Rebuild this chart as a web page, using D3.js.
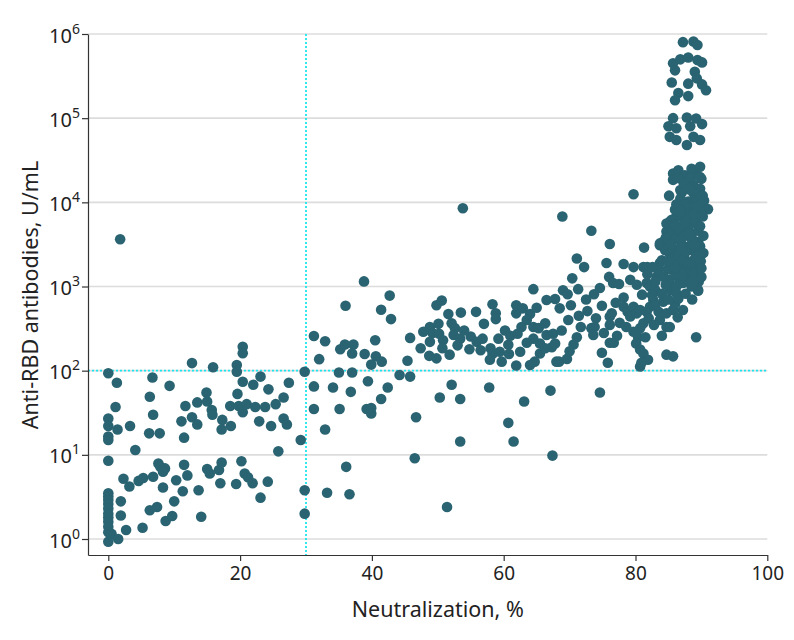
<!DOCTYPE html>
<html>
<head>
<meta charset="utf-8">
<script src="https://cdn.jsdelivr.net/npm/d3@7"></script>
<style>
  body { margin: 0; background: #fff; }
  text { font-family: "Noto Sans", "Open Sans", sans-serif; fill: #222; }
</style>
</head>
<body>
<div id="chart"><svg width="794" height="640"></svg></div>
<script>
// [neutralization %, anti-RBD U/mL]
const lowLeft = [
  [0, 3.5], [0, 3.2], [0, 2.9], [0, 2.6], [0, 2.3], [0, 2.0], [0, 1.8], [0, 1.6], [0, 1.4], [0, 1.2],
  [0, 0.93], [0.5, 1.15], [1.5, 1.0], [1.9, 2.8], [1.9, 1.9], [2.7, 1.28], [2.3, 5.2], [3.2, 4.2],
  [4.6, 4.9], [5.3, 5.3], [5.2, 1.36], [6.8, 5.5], [6.3, 2.2], [7.4, 2.4], [7.6, 7.9], [7.9, 7.2],
  [8.6, 6.9], [8.3, 6.3], [8.3, 4.1], [8.7, 1.64], [9.7, 1.88], [10, 2.8], [10.3, 5.0], [11.5, 7.6],
  [12, 5.7], [11.3, 3.7], [13.7, 3.8], [14.1, 1.84], [15, 6.8], [15.4, 6.0], [16.8, 6.6], [17.2, 8.1],
  [17, 4.6], [19.4, 4.5], [20.2, 8.4], [20.7, 6.0], [21.2, 5.4], [21.9, 4.6], [23.1, 3.1], [24.2, 4.8],
  [0, 8.5]
];
const midLeft = [
  [0, 93], [0, 27], [0, 22], [0, 16.5], [0, 15], [1.3, 72], [1.1, 37], [1.4, 20], [3.3, 22], [4.1, 11.4],
  [6.7, 83], [6.3, 49], [6.8, 30], [6.2, 18], [7.8, 18], [9.3, 66], [12.7, 123], [15.9, 110], [19.5, 117],
  [19.5, 97], [20.4, 192], [20.4, 161], [20.4, 74], [22, 68], [23.1, 85], [24.3, 60], [27.4, 72],
  [29.8, 97], [19.6, 53], [14.9, 55], [15, 43], [13.5, 42], [11.7, 38], [12.7, 28], [13.5, 23],
  [11.1, 25], [11.5, 16], [15.7, 34], [15.8, 30], [17.3, 26], [17.2, 20], [18.6, 22], [18.5, 38],
  [19.8, 38], [20.4, 32], [21, 40], [22.3, 37], [23.8, 37], [25.4, 40], [26.6, 48], [26.6, 27],
  [27.1, 23], [24.7, 22], [22.9, 25], [29.2, 15], [25.8, 11], [1.8, 3650]
];
const middle = [
  [29.8, 3.8], [29.8, 2.0], [33.2, 3.55], [36.6, 3.4], [51.4, 2.4], [36.1, 7.2], [46.5, 9.1],
  [31.2, 258], [32.9, 224], [32, 137], [31.2, 65], [31.2, 35], [32.9, 20], [34.1, 63], [36.8, 56],
  [35.1, 35], [35, 95], [37, 95], [35.2, 180], [35.9, 205], [37.2, 205], [37, 160], [38.9, 158],
  [40.5, 230], [40.6, 148], [39.9, 118], [41.5, 128], [39.4, 75], [42.4, 63], [41.4, 46], [39.2, 35],
  [39.9, 36], [39.9, 31], [44.2, 89], [45.8, 85], [45.8, 245], [45.4, 131], [46.7, 28], [38.8, 1150],
  [42.7, 780], [41.4, 530], [42.9, 410], [36, 590], [49.8, 600], [50.6, 680], [51.6, 470], [53.5, 490],
  [55.8, 500], [57, 360], [58.3, 615], [58.8, 480], [58.8, 410], [61.9, 600], [61.9, 480], [62.9, 550],
  [64, 470], [48.8, 330], [50.1, 360], [49.2, 280], [50.2, 275], [50.8, 230], [52.1, 365], [52.6, 320],
  [52.4, 265], [53.4, 240], [55, 255], [55.9, 220], [54.8, 180], [48.8, 220], [47.4, 185], [48.7, 150],
  [49.8, 140], [51.8, 155], [50.7, 185], [58, 185], [58.3, 158], [57.9, 135], [59.4, 168], [59.7, 128],
  [60.7, 203], [60.8, 158], [62.5, 168], [61.9, 115], [53.8, 8500], [50.3, 48], [52.1, 68], [53.4, 46],
  [57.8, 63], [53.4, 14.4], [60.7, 24], [61.5, 14.4], [63.1, 43], [67.1, 58], [67.4, 9.8], [74.6, 55],
  [47.8, 290], [54, 300], [56.8, 240], [60.2, 300], [61, 260], [59.2, 240], [56.5, 175], [53, 200]
];
const rising = [
  [63.5, 400], [62.7, 330], [64.5, 330], [62.1, 275], [65.3, 320], [66.3, 365], [64.5, 240], [63.5, 215],
  [66.5, 265], [65.5, 210], [67.3, 190], [67.8, 210], [65.5, 160], [66.3, 185], [64.7, 128], [64, 117],
  [68, 128], [64.5, 930], [66.5, 690], [67.8, 710], [68.5, 550], [68.4, 128], [69.6, 138], [68.9, 6800],
  [67.5, 275], [73.3, 4600], [76.1, 3200], [81.3, 2900], [71.1, 2150], [72.2, 1700], [75.6, 1900],
  [78.2, 1850], [79.7, 1700], [81.2, 1700], [81.8, 1700], [70.4, 1250], [71.3, 930], [69, 900],
  [69.7, 810], [73.7, 810], [74.6, 960], [76, 1300], [76.6, 1100], [77.5, 1070], [74.9, 590],
  [72.7, 510], [71.4, 450], [71.7, 330], [73.3, 320], [73.8, 330], [73.6, 265], [71.1, 250], [70.6, 205],
  [74.9, 163], [75.8, 124], [76.1, 215], [76.7, 215], [76.1, 440], [76.1, 350], [77.6, 370], [76.4, 480],
  [78.2, 575], [78.2, 740], [78.8, 500], [79.2, 440], [79.7, 575], [80.2, 480], [80.7, 525], [81.2, 365],
  [80.7, 320], [79.7, 290], [80.4, 250], [80.1, 210], [81.2, 160], [81.9, 135], [80.7, 112], [80.9, 124],
  [80.7, 178], [79.7, 12500], [85.1, 12000], [65, 560], [69.8, 400], [70.2, 600], [72.5, 700],
  [74, 420], [75.2, 280], [77.2, 260], [78.6, 330], [77, 640], [68.8, 300], [70, 170]
];
const plateau = [
  [79.2, 1200], [80.2, 1050], [81.7, 1100], [82.2, 1000], [83, 910], [82.5, 790], [83.2, 1310],
  [83.5, 1580], [83.7, 1900], [84, 2050], [82.7, 690], [82.2, 575], [81.7, 500], [83.5, 500], [83.7, 400],
  [84.7, 480], [84.7, 330], [85.2, 330], [85.2, 910], [85.7, 1000], [86.2, 830], [86.7, 1200],
  [87.2, 1100], [87.8, 1200], [88.5, 1000], [89.5, 890], [87.2, 525], [85.7, 525], [86, 630], [84.2, 660],
  [85.2, 1200], [85.5, 1580], [85.7, 1900], [86.7, 1740], [87.8, 1650], [88.8, 1800], [84.7, 155],
  [85.7, 148], [89.2, 250], [89.5, 910], [81, 800], [82, 420], [83, 600], [84, 820], [85, 700],
  [86.5, 720], [87.6, 820], [88.6, 700], [86.4, 430], [82.8, 350], [84, 260], [81.5, 250], [83, 1150],
  [84.6, 1050], [86.2, 1000], [88.2, 1400], [89.6, 1150], [81.8, 1400], [82.6, 1700], [84.9, 1600]
];
const column = [
  [85.7, 22000], [91, 8300], [86.5, 6800], [85.2, 5900], [84.7, 4500], [84.2, 3400], [83.7, 3100],
  [85.7, 18500], [87.8, 15400], [88.8, 16200], [89.3, 11700], [88, 10200], [90.3, 8500], [87.8, 7400],
  [89.3, 6200], [86.2, 6800], [84.7, 5600], [85.7, 4700], [86.7, 4300], [88.5, 3900], [89.5, 3400],
  [87.8, 2950], [89, 2600], [83.7, 3250], [84.5, 2700], [85.2, 2470], [85.7, 2150], [86.7, 2050],
  [88.3, 1800], [88.8, 2050], [86.5, 24000], [87.5, 21000], [89, 23000], [90, 19000], [88, 17500],
  [86.8, 14000], [89.8, 14500], [87, 13000], [88.8, 12800], [86.8, 11000], [89.5, 10500], [87.5, 9500],
  [88.5, 8800], [86, 8200], [89.8, 7800], [87.2, 7000], [88.3, 6500], [85.5, 6200], [89, 5700],
  [86.8, 5200], [88, 4900], [85.2, 4100], [89.5, 4600], [87.5, 4000], [86.2, 3700], [88.6, 3500],
  [87, 3200], [89.8, 3000], [85.8, 2800], [88.2, 2700], [86.5, 2400], [89.2, 2300], [87.4, 2200],
  [88, 1500], [86.2, 1400], [89, 1450], [84.3, 1300], [87.2, 1350], [88.8, 1150], [90, 1300],
  [87.3, 17000], [86.4, 19500], [88.2, 14200], [90.2, 12000], [86.2, 9500], [87.8, 8600], [89.2, 9000],
  [90.4, 10500], [86.8, 7800], [88.8, 7200], [90.2, 6800], [87.6, 5800], [85.9, 5400], [89.8, 5200],
  [84.6, 3800], [86.9, 3600], [88.1, 4300], [90.3, 4000], [87.6, 2600], [85.4, 3200], [89.9, 2000],
  [86, 1700], [87.9, 1900], [90.3, 2500], [84.9, 2000], [86.9, 2800], [88.9, 3100], [90, 1650]
];
const topCluster = [
  [87.2, 800000], [88.8, 815000], [89.4, 740000], [85.7, 450000], [86.8, 500000], [88, 525000],
  [89.4, 490000], [90.1, 460000], [86, 370000], [89, 355000], [89.3, 297000], [85.5, 265000],
  [88, 257000], [90.1, 252000], [90.7, 215000], [86.5, 199000], [88, 183000], [86, 163000],
  [85.7, 100000], [87.8, 102000], [89.2, 99000], [90.1, 85000], [85, 80000], [86.2, 76000],
  [88.3, 80000], [85.2, 60000], [86.2, 55000], [88.8, 60000], [89.8, 55000], [87.8, 48000],
  [88.5, 25000], [89.8, 26500], [88.5, 20000], [89.8, 20000]
];

const xTicks = [0, 20, 40, 60, 80, 100];
const yTicks = [1, 10, 100, 1000, 10000, 100000, 1000000];
const cutNeutralization = 30;
const cutAntibody = 100;

const dotColor = '#2a6371';
const cutColor = '#1de6ee';

const svg = d3.select('#chart svg');
svg.append('rect').attr('width', 794).attr('height', 640).attr('fill', '#fff');

const x = d3.scaleLinear().domain([-3.08, 100]).range([88, 767.3]);
const y = d3.scaleLog().domain([Math.pow(10, -0.19), 1e6]).range([555, 34]);

// grid
svg.append('g')
  .selectAll('line')
  .data(yTicks)
  .join('line')
  .attr('x1', x(-3.08)).attr('x2', x(100))
  .attr('y1', d => y(d)).attr('y2', d => y(d))
  .attr('stroke', '#dcdcdc')
  .attr('stroke-width', 1.6);

// cut-off lines
svg.append('line')
  .attr('x1', x(cutNeutralization)).attr('x2', x(cutNeutralization))
  .attr('y1', y.range()[1]).attr('y2', y.range()[0])
  .attr('stroke', cutColor).attr('stroke-width', 1.8)
  .attr('stroke-dasharray', '2,2');
svg.append('line')
  .attr('x1', x(-3.08)).attr('x2', x(100))
  .attr('y1', y(cutAntibody)).attr('y2', y(cutAntibody))
  .attr('stroke', cutColor).attr('stroke-width', 1.8)
  .attr('stroke-dasharray', '2,2');

// points
const allPoints = [].concat(lowLeft, midLeft, middle, rising, plateau, column, topCluster);
svg.append('g')
  .selectAll('circle')
  .data(allPoints)
  .join('circle')
  .attr('cx', d => x(d[0]))
  .attr('cy', d => y(d[1]))
  .attr('r', 5.3)
  .attr('fill', dotColor);

// axes
const gx = svg.append('g')
  .attr('transform', `translate(0,${y.range()[0]})`)
  .call(d3.axisBottom(x).tickValues(xTicks).tickSize(6).tickSizeOuter(0).tickPadding(6));
gx.selectAll('text').attr('font-size', 19).attr('fill', '#222');

const gy = svg.append('g')
  .attr('transform', `translate(${x.range()[0]},0)`)
  .call(d3.axisLeft(y).tickValues(yTicks).tickSize(6).tickSizeOuter(0).tickFormat(''));

gy.selectAll('.tick').append('text')
  .attr('x', -8)
  .attr('y', 8)
  .attr('text-anchor', 'end')
  .attr('font-size', 20)
  .attr('fill', '#222')
  .each(function (d) {
    const t = d3.select(this);
    t.append('tspan').text('10');
    t.append('tspan')
      .attr('font-size', 14)
      .attr('dy', -9)
      .text(Math.round(Math.log10(d)));
  });

svg.selectAll('.domain, .tick line').attr('stroke', '#333').attr('stroke-width', 1.2);

// titles
svg.append('text')
  .attr('x', (x(0) + x(100)) / 2)
  .attr('y', 617)
  .attr('text-anchor', 'middle')
  .attr('font-size', 21.5)
  .text('Neutralization, %');

svg.append('text')
  .attr('transform', `translate(38,295) rotate(-90)`)
  .attr('text-anchor', 'middle')
  .attr('font-size', 21.5)
  .text('Anti-RBD antibodies, U/mL');
</script>
</body>
</html>
